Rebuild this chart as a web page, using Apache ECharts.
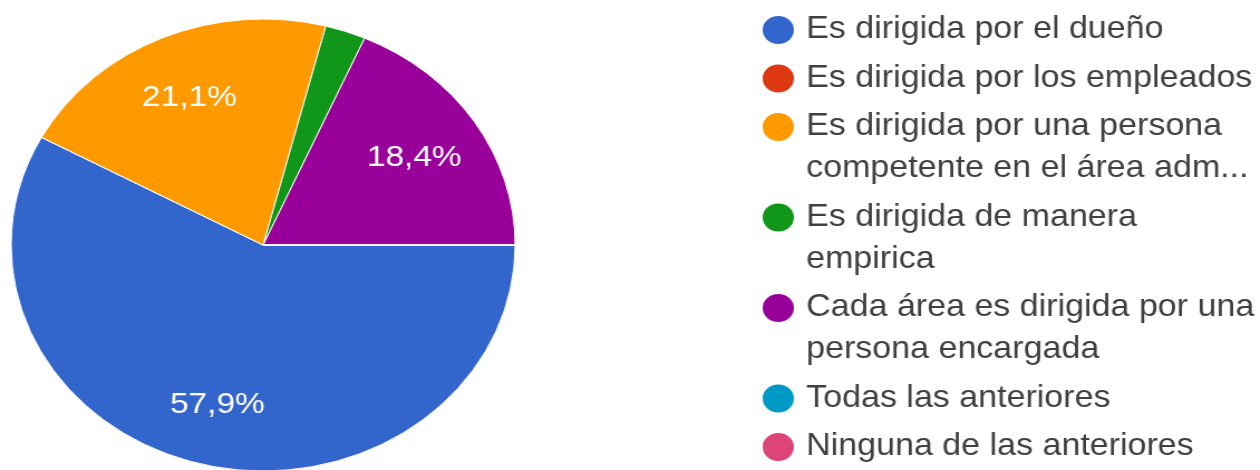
<!DOCTYPE html>
<html>
<head>
<meta charset="utf-8">
<script src="https://cdn.jsdelivr.net/npm/echarts@6/dist/echarts.min.js"></script>
<style>
  html, body { margin: 0; padding: 0; background: #fff; overflow: hidden; }
  #wrap { width: 1260px; height: 470px; overflow: hidden; }
  /* the chart is laid out narrower and widened horizontally */
  #chart { width: 1130px; height: 470px; transform: scaleX(1.115); transform-origin: 0 0; }
</style>
</head>
<body>
<div id="wrap"><div id="chart"></div></div>
<script>
// Answer options (line breaks as shown in the legend)
const categories = [
  'Es dirigida por el dueño',
  'Es dirigida por los empleados',
  'Es dirigida por una persona\ncompetente en el área adm...',
  'Es dirigida de manera\nempirica',
  'Cada área es dirigida por una\npersona encargada',
  'Todas las anteriores',
  'Ninguna de las anteriores'
];
// Share of responses, percent
const shares = [57.9, 0, 21.1, 2.6, 18.4, 0, 0];
const palette = ['#3366cc', '#dc3912', '#ff9900', '#109618', '#990099', '#0099c6', '#dd4477'];

const FONT = '"Liberation Sans", Arial, sans-serif';
const LINE_H = 42;
const ITEM_STEP = 48.5;
const FIRST_LINE_Y = 30;

const pieData = categories.map((name, i) => ({ name, value: shares[i] }));

// one legend block per option so the dot sits beside the first text line
const legends = [];
let lineY = FIRST_LINE_Y;
categories.forEach((name) => {
  const n = name.split('\n').length;
  const lineStyle = { fontFamily: FONT, fontSize: 30.5, lineHeight: LINE_H, color: '#404040' };
  legends.push({
    data: [{ name, icon: 'circle' }],
    orient: 'vertical',
    left: 682,
    top: lineY - LINE_H * n + LINE_H / 2,
    padding: 0,
    itemWidth: 30,
    itemHeight: 30,
    selectedMode: false,
    formatter: (label) => label.split('\n').map((s) => '{t|' + s + '}').join('\n'),
    textStyle: Object.assign({}, lineStyle, {
      padding: [LINE_H * (n - 1), 0, 0, 5],
      rich: { t: lineStyle }
    })
  });
  lineY += LINE_H * (n - 1) + ITEM_STEP;
});

const chart = echarts.init(document.getElementById('chart'), null, { renderer: 'canvas' });
chart.setOption({
  animation: false,
  backgroundColor: '#ffffff',
  color: palette,
  legend: legends,
  series: [
    {
      type: 'pie',
      center: [236, 245],
      radius: 226,
      startAngle: 0,
      clockwise: true,
      avoidLabelOverlap: false,
      silent: true,
      label: { show: false },
      labelLine: { show: false },
      itemStyle: { borderColor: '#ffffff', borderWidth: 1 },
      emphasis: { disabled: true },
      data: pieData
    },
    {
      // label ring: same slices, transparent, labels placed in the outer part
      type: 'pie',
      center: [235, 247],
      radius: [94, 226],
      startAngle: 0,
      clockwise: true,
      avoidLabelOverlap: false,
      silent: true,
      itemStyle: { color: 'transparent', borderWidth: 0 },
      emphasis: { disabled: true },
      labelLine: { show: false },
      label: {
        show: true,
        position: 'inside',
        fontFamily: FONT,
        fontSize: 30,
        color: '#ffffff',
        formatter: (p) => p.value >= 5 ? p.value.toFixed(1).replace('.', ',') + '%' : ''
      },
      data: pieData
    }
  ]
});
</script>
</body>
</html>
